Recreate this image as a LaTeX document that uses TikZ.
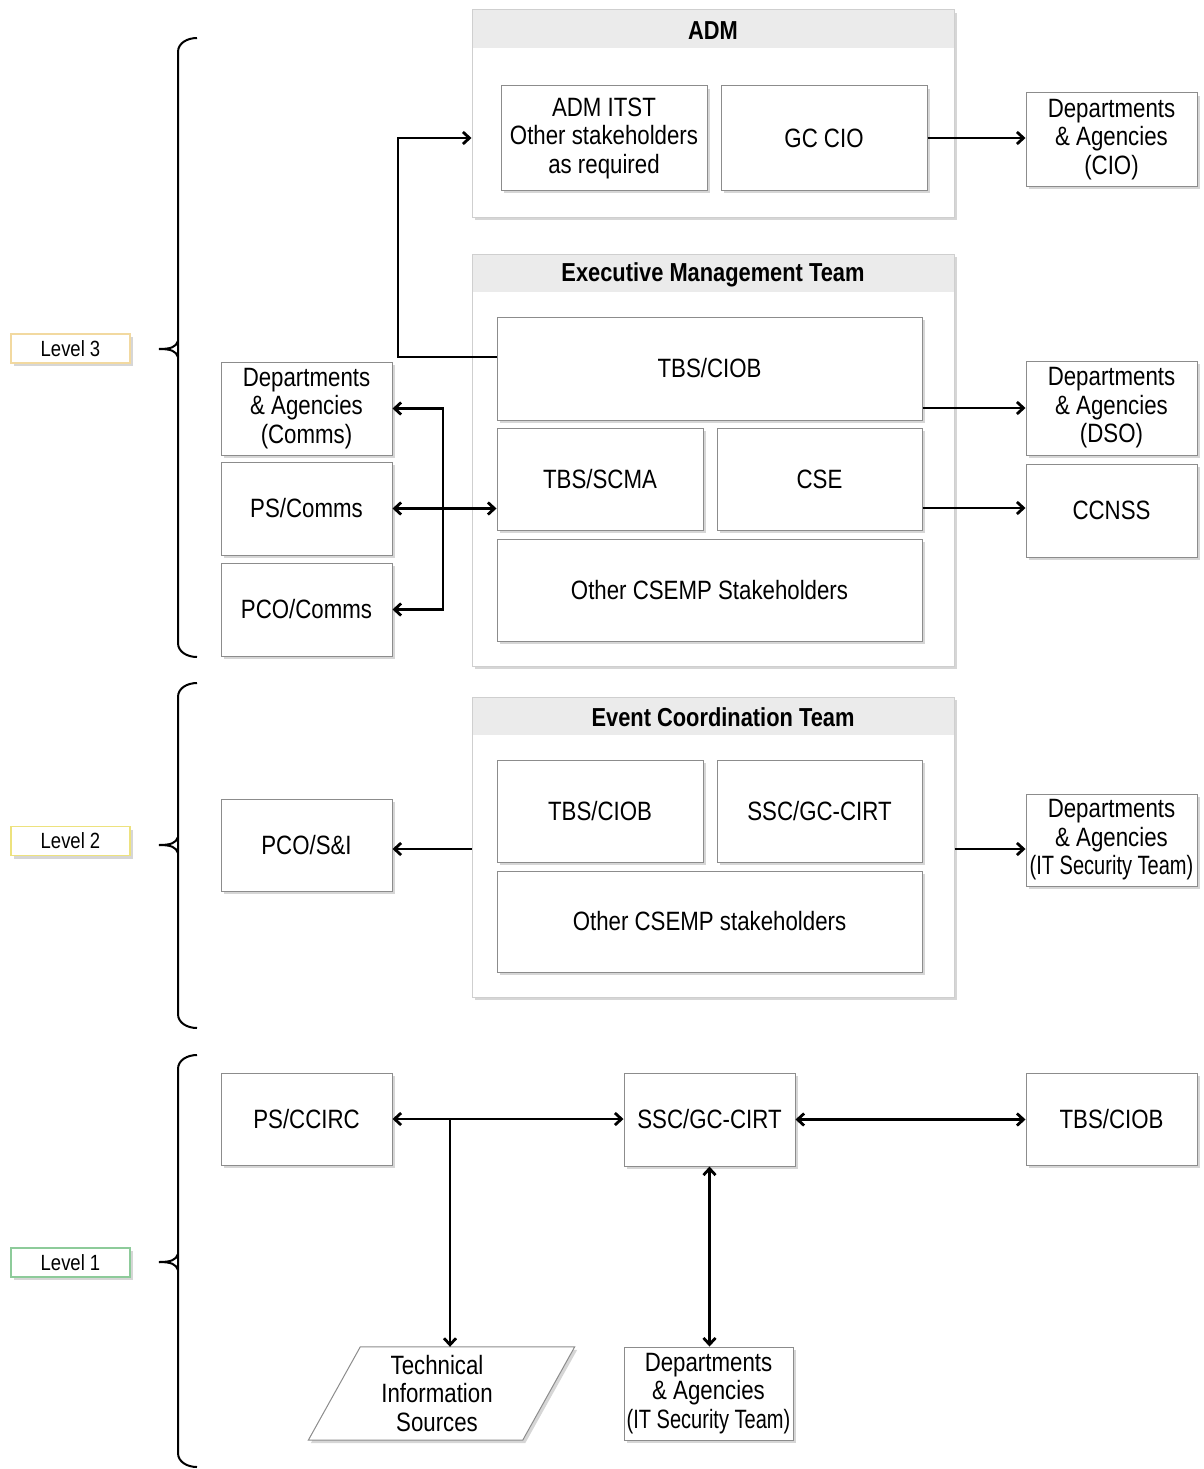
\documentclass[tikz,border=0pt]{standalone}
\usepackage{fontspec}
\setmainfont{Liberation Sans}[FakeStretch=0.84]
\usetikzlibrary{arrows.meta,shadows,calc}
\definecolor{boxgray}{HTML}{8C8C8C}
\definecolor{contgray}{HTML}{CFCFCF}
\definecolor{hdrgray}{HTML}{EBEBEB}
\definecolor{lvlthree}{HTML}{F2D9A0}
\definecolor{lvltwo}{HTML}{EDE27E}
\definecolor{lvlone}{HTML}{8DCB9A}
\newcommand{\itsec}{\scalebox{0.9}[1]{(IT Security Team)}}
\begin{document}
\begin{tikzpicture}[x=1pt,y=-1pt,
  sz/.style 2 args={minimum width=#1pt, minimum height=#2pt},
  shad/.style={drop shadow={shadow xshift=2.5pt,shadow yshift=-3pt,fill=black,opacity=0.16}},
  box/.style={draw=boxgray, line width=1pt, fill=white, inner sep=0pt, align=center,
    font=\fontsize{26.5}{28.5}\selectfont, shad},
  cont/.style={draw=contgray, line width=1pt, fill=white, inner sep=0pt, shad,
    path picture={\fill[hdrgray] (path picture bounding box.north west) rectangle ([yshift=-38pt]path picture bounding box.north east);}},
  title/.style={font=\fontsize{26}{28.5}\selectfont\bfseries, inner sep=0pt},
  lvl/.style={draw=#1, line width=1.3pt, fill=white, inner sep=0pt, minimum width=119pt, minimum height=29pt,
    font=\fontsize{22}{24}\selectfont, shad},
  brk/.style={line width=2pt, black},
  >={Straight Barb[length=6.5pt,width=12pt,line width=2.8pt]},
  conn/.style={line width=2.2pt, black},
]
\useasboundingbox (0,0) rectangle (1203,1469);

% ---------- Level labels and brackets ----------
\node[lvl=lvlthree] (l3) at (70.5,348.5) {Level 3};
\node[lvl=lvltwo] (l2) at (70.5,841) {Level 2};
\node[lvl=lvlone] (l1) at (70.5,1262.5) {Level 1};

\draw[brk] (197,38) to[out=180,in=90] (178,52) -- (178,643) to[out=-90,in=180] (197,657);
\draw[brk] (159,349) .. controls (171,349) and (176,347) .. (178,341);
\draw[brk] (159,349) .. controls (171,349) and (176,351) .. (178,357);

\draw[brk] (197,683) to[out=180,in=90] (178,697) -- (178,1014) to[out=-90,in=180] (197,1028);
\draw[brk] (159,845) .. controls (171,845) and (176,843) .. (178,837);
\draw[brk] (159,845) .. controls (171,845) and (176,847) .. (178,853);

\draw[brk] (197,1055) to[out=180,in=90] (178,1069) -- (178,1453) to[out=-90,in=180] (197,1467);
\draw[brk] (159,1262) .. controls (171,1262) and (176,1260) .. (178,1254);
\draw[brk] (159,1262) .. controls (171,1262) and (176,1264) .. (178,1270);

% ---------- Level 3 ----------
\node[cont,sz={482}{207}] (adm) at (713,113.5) {};
\node[title] (admt) at (713,31) {ADM};
\node[box,sz={206}{104}] (admitst) at (604,138) {ADM ITST\\Other stakeholders\\as required};
\node[box,sz={206}{104}] (gccio) at (824,138) {GC CIO};
\node[box,sz={171}{93}] (dacio) at (1111.5,139.5) {Departments\\\& Agencies\\(CIO)};

\node[cont,sz={482}{412}] (emt) at (713,460) {};
\node[title] (emtt) at (713,275) {Executive Management Team};
\node[box,sz={425}{103}] (tbsciob3) at (709.5,368.5) {TBS/CIOB};
\node[box,sz={206}{102}] (tbsscma) at (600,479) {TBS/SCMA};
\node[box,sz={205}{102}] (cse) at (819.5,479) {CSE};
\node[box,sz={425}{102}] (other3) at (709.5,590) {Other CSEMP Stakeholders};

\node[box,sz={171}{93}] (dacomms) at (306.5,408.5) {Departments\\\& Agencies\\(Comms)};
\node[box,sz={171}{93}] (pscomms) at (306.5,508.5) {PS/Comms};
\node[box,sz={171}{93}] (pcocomms) at (306.5,609.5) {PCO/Comms};

\node[box,sz={171}{94}] (dadso) at (1111.5,408) {Departments\\\& Agencies\\(DSO)};
\node[box,sz={171}{93}] (ccnss) at (1111.5,510.5) {CCNSS};

\coordinate (j1) at (398,357);
\draw[conn,->] (tbsciob3.west |- j1) -- (j1) |- (adm.west |- gccio.east);
\draw[conn,->] (gccio.east) -- (gccio.east -| dacio.west);
\draw[conn,->] (tbsciob3.east |- dadso.west) -- (dadso.west);
\coordinate (h1) at (0,508);
\draw[conn,->] (cse.east |- h1) -- (ccnss.west |- h1);
\draw[conn,<->] (pscomms.east) -- (pscomms.east -| tbsscma.west);
\coordinate (v1) at (443,508.5);
\draw[conn,<->] (dacomms.east) -| (v1) |- (pcocomms.east);

% ---------- Level 2 ----------
\node[cont,sz={482}{300}] (ect) at (713,847) {};
\node[title] (ectt) at (723,717) {Event Coordination Team};
\node[box,sz={206}{102}] (tbsciob2) at (600,811) {TBS/CIOB};
\node[box,sz={205}{102}] (sscgc2) at (819.5,811) {SSC/GC-CIRT};
\node[box,sz={425}{101}] (other2) at (709.5,921.5) {Other CSEMP stakeholders};

\node[box,sz={171}{92}] (pcosi) at (306.5,845) {PCO/S\&I};
\node[box,sz={171}{92}] (daits2) at (1111.5,840) {Departments\\\& Agencies\\\itsec};

\coordinate (h2) at (0,849);
\draw[conn,->] (ect.west |- h2) -- (pcosi.east |- h2);
\draw[conn,->] (ect.east |- h2) -- (daits2.west |- h2);

% ---------- Level 1 ----------
\node[box,sz={171}{92}] (psccirc) at (306.5,1119) {PS/CCIRC};
\node[box,sz={171}{93}] (sscgc1) at (709.5,1119.5) {SSC/GC-CIRT};
\node[box,sz={171}{92}] (tbsciob1) at (1111.5,1119) {TBS/CIOB};

\node[inner sep=0pt, sz={214}{93}] (tis) at (441.5,1393.5) {};
\fill[black,opacity=0.16] ([shift={(-23.5pt,-3pt)}]tis.south west) -- ([shift={(28.5pt,-3pt)}]tis.north west) -- ([shift={(28.5pt,-3pt)}]tis.north east) -- ([shift={(-23.5pt,-3pt)}]tis.south east) -- cycle;
\draw[draw=boxgray, line width=1pt, fill=white] ([xshift=-26pt]tis.south west) -- ([xshift=26pt]tis.north west) -- ([xshift=26pt]tis.north east) -- ([xshift=-26pt]tis.south east) -- cycle;
\node[align=center, inner sep=0pt, font=\fontsize{26.5}{28.5}\selectfont] (tist) at (437,1393.5) {Technical\\Information\\Sources};
\node[box,sz={169}{93}] (daits1) at (708.5,1393.5) {Departments\\\& Agencies\\\itsec};

\draw[conn,<->] (psccirc.east) -- (psccirc.east -| sscgc1.west);
\draw[conn,<->] (sscgc1.east) -- (sscgc1.east -| tbsciob1.west);
\coordinate (b1) at (450,1119);
\draw[conn,->] (b1) -- (b1 |- tis.north);
\draw[conn,<->] (sscgc1.south) -- (sscgc1.south |- daits1.north);
\end{tikzpicture}
\end{document}
